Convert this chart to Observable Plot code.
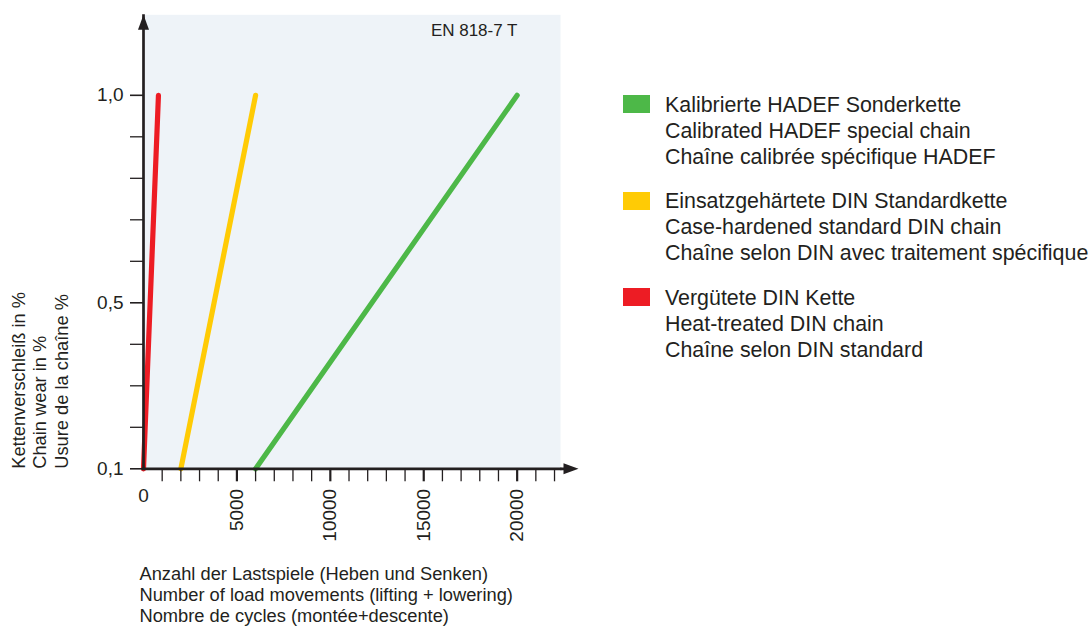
<!DOCTYPE html>
<html><head><meta charset="utf-8">
<script src="https://cdn.jsdelivr.net/npm/d3@7"></script>
<script src="https://cdn.jsdelivr.net/npm/@observablehq/plot@0.6"></script>
<style>
html,body{margin:0;padding:0;background:#fff;overflow:hidden}
#wrap{position:relative;width:1089px;height:626px;font-family:"Liberation Sans",Arial,sans-serif;color:#231f20}
#chart svg{display:block}
#legend{position:absolute;left:623px;top:91.5px}
.group{position:relative;padding-left:42px;height:78px;margin-bottom:18.5px}
.swatch{position:absolute;left:0;top:3.5px;width:27px;height:18px}
.line{font-size:21.4px;line-height:26px;white-space:nowrap}
</style></head><body>
<div id="wrap"><div id="chart"></div><div id="legend"></div></div>
<script>
// ---- data ----
const seriesNames = ["Kalibrierte HADEF Sonderkette", "Einsatzgehärtete DIN Standardkette", "Vergütete DIN Kette"];
const seriesColors = ["#4db848", "#ffcb05", "#ed1c24"];
const legendLines = [
  ["Kalibrierte HADEF Sonderkette", "Calibrated HADEF special chain", "Chaîne calibrée spécifique HADEF"],
  ["Einsatzgehärtete DIN Standardkette", "Case-hardened standard DIN chain", "Chaîne selon DIN avec traitement spécifique"],
  ["Vergütete DIN Kette", "Heat-treated DIN chain", "Chaîne selon DIN standard"]
];
const greenCycles = [6000, 20000];
const greenWear = [0.1, 1.0];
const yellowCycles = [2000, 6000];
const yellowWear = [0.1, 1.0];
const redCycles = [0, 800];
const redWear = [0.1, 1.0];
const xMajorTicks = [5000, 10000, 15000, 20000];
const xMinorTicks = [1000, 2000, 3000, 4000, 6000, 7000, 8000, 9000, 11000, 12000, 13000, 14000, 16000, 17000, 18000, 19000, 21000, 22000];
const xZeroLabel = [0];
const yLabeledTicks = [0.1, 0.5, 1.0];
const yMinorTicks = [0.2, 0.3, 0.4, 0.6, 0.7, 0.8, 0.9];
const yTitleLines = ["Kettenverschleiß in %", "Chain wear in %", "Usure de la chaîne %"];
const xTitleLines = ["Anzahl der Lastspiele (Heben und Senken)", "Number of load movements (lifting + lowering)", "Nombre de cycles (montée+descente)"];
const standardNote = "EN 818-7 T";

// ---- build table ----
const seriesCycles = [greenCycles, yellowCycles, redCycles];
const seriesWear = [greenWear, yellowWear, redWear];
const rows = [];
seriesNames.forEach((s, i) => seriesCycles[i].forEach((c, j) => rows.push({series: s, cycles: c, wear: seriesWear[i][j]})));

const xDomain = [0, 22320];
const yDomain = [0.1, 1.194];
const ink = "#231f20";

const arrowUp = {draw(ctx) { ctx.moveTo(0, 0); ctx.lineTo(5.5, 15); ctx.lineTo(-5.5, 15); ctx.closePath(); }};
const arrowRight = {draw(ctx) {
  ctx.moveTo(0, -1.35); ctx.lineTo(3, -1.35); ctx.lineTo(3, -5.5); ctx.lineTo(18, 0);
  ctx.lineTo(3, 5.5); ctx.lineTo(3, 1.35); ctx.lineTo(0, 1.35); ctx.closePath(); }};

const chart = Plot.plot({
  width: 1089, height: 626,
  marginLeft: 143, marginRight: 529, marginTop: 14.3, marginBottom: 157.7,
  x: {domain: xDomain, label: null},
  y: {domain: yDomain, label: null},
  color: {domain: seriesNames, range: seriesColors},
  style: {fontFamily: "'Liberation Sans', Arial, sans-serif", color: ink, background: "white"},
  marks: [
    Plot.frame({fill: "#eef3f8", stroke: "none"}),
    Plot.text([standardNote], {text: d => d, frameAnchor: "top-right", textAnchor: "end", lineAnchor: "top", dx: -43, dy: 9.5, fontSize: 17, fill: ink}),
    Plot.line(rows, {x: "cycles", y: "wear", z: "series", stroke: "series", strokeWidth: 5.2, strokeLinecap: "round"}),
    Plot.ruleX([0], {stroke: ink, strokeWidth: 2.7}),
    Plot.ruleY([yDomain[0]], {stroke: ink, strokeWidth: 2.7, strokeLinecap: "square"}),
    Plot.dot([0], {x: d => d, y: () => yDomain[1], symbol: arrowUp, fill: ink, stroke: "none"}),
    Plot.dot([yDomain[0]], {x: () => xDomain[1], y: d => d, symbol: arrowRight, fill: ink, stroke: "none"}),
    Plot.axisX(xMinorTicks, {tickSize: 13, strokeWidth: 1.3, stroke: ink, fill: "none"}),
    Plot.axisX(xMajorTicks, {tickSize: 13, strokeWidth: 2.2, stroke: ink, fill: "none"}),
    Plot.text(xMajorTicks, {x: d => d, text: d => String(d), frameAnchor: "bottom", dy: 20, rotate: -90, textAnchor: "end", lineAnchor: "middle", fontSize: 19, fill: ink}),
    Plot.text(xZeroLabel, {x: d => d, text: d => String(d), frameAnchor: "bottom", dy: 20, lineAnchor: "top", fontSize: 19, fill: ink}),
    Plot.axisY(yMinorTicks, {tickSize: 13, strokeWidth: 1.3, stroke: ink, fill: "none"}),
    Plot.axisY(yLabeledTicks, {tickSize: 13, tickPadding: 7, strokeWidth: 1.6, stroke: ink, fill: ink, fontSize: 19,
      tickFormat: d => d.toFixed(1).replace(".", ",")}),
    Plot.text([yTitleLines.join("\n")], {text: d => d, frameAnchor: "bottom-left", dx: -133, rotate: -90, textAnchor: "start", lineAnchor: "top", lineHeight: 1.15, fontSize: 18.3, fill: ink}),
    Plot.text([xTitleLines.join("\n")], {text: d => d, frameAnchor: "bottom-left", dx: -4, dy: 96.5, textAnchor: "start", lineAnchor: "top", lineHeight: 1.15, fontSize: 18.3, fill: ink})
  ]
});
document.getElementById("chart").appendChild(chart);

const legend = document.getElementById("legend");
seriesNames.forEach((s, i) => {
  const g = document.createElement("div");
  g.className = "group";
  const sw = document.createElement("div");
  sw.className = "swatch";
  sw.style.background = seriesColors[i];
  g.appendChild(sw);
  legendLines[i].forEach(t => {
    const l = document.createElement("div");
    l.className = "line";
    l.textContent = t;
    g.appendChild(l);
  });
  legend.appendChild(g);
});
</script>
</body></html>
